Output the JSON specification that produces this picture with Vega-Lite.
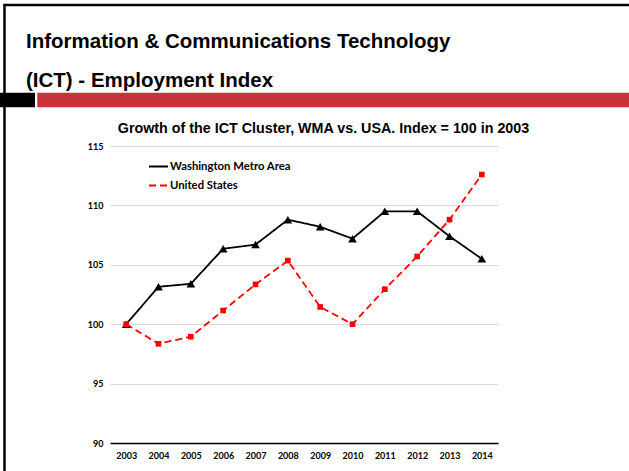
{
  "$schema": "https://vega.github.io/schema/vega-lite/v6.json",
  "autosize": {"type": "none"},
  "width": 388,
  "height": 297,
  "padding": {"left": 110, "top": 146, "right": 131, "bottom": 28},
  "background": "white",
  "title": {
    "text": ["Information & Communications Technology", " (ICT) - Employment Index"],
    "anchor": "start",
    "frame": "group",
    "dx": -84,
    "dy": 109,
    "baseline": "alphabetic",
    "font": "Liberation Sans",
    "fontSize": 20.5,
    "fontWeight": "bold",
    "lineHeight": 39,
    "color": "#000000"
  },
  "config": {
    "view": {"stroke": null},
    "font": "Lato",
    "axisY": {
      "title": null, "ticks": false, "domain": false,
      "grid": true, "gridColor": "#d9d9d9", "gridWidth": 1,
      "labelFont": "Lato", "labelFontSize": 9, "labelFontWeight": "bold", "labelColor": "#000000",
      "labelPadding": 7
    }
  },
  "data": {
    "values": [
      {"year": "2003", "series": "Washington Metro Area", "value": 100.0},
      {"year": "2004", "series": "Washington Metro Area", "value": 103.15},
      {"year": "2005", "series": "Washington Metro Area", "value": 103.4},
      {"year": "2006", "series": "Washington Metro Area", "value": 106.35},
      {"year": "2007", "series": "Washington Metro Area", "value": 106.7},
      {"year": "2008", "series": "Washington Metro Area", "value": 108.8},
      {"year": "2009", "series": "Washington Metro Area", "value": 108.2},
      {"year": "2010", "series": "Washington Metro Area", "value": 107.2},
      {"year": "2011", "series": "Washington Metro Area", "value": 109.5},
      {"year": "2012", "series": "Washington Metro Area", "value": 109.5},
      {"year": "2013", "series": "Washington Metro Area", "value": 107.4},
      {"year": "2014", "series": "Washington Metro Area", "value": 105.5},
      {"year": "2003", "series": "United States", "value": 100.0},
      {"year": "2004", "series": "United States", "value": 98.35},
      {"year": "2005", "series": "United States", "value": 98.95},
      {"year": "2006", "series": "United States", "value": 101.15},
      {"year": "2007", "series": "United States", "value": 103.35},
      {"year": "2008", "series": "United States", "value": 105.35},
      {"year": "2009", "series": "United States", "value": 101.45},
      {"year": "2010", "series": "United States", "value": 100.0},
      {"year": "2011", "series": "United States", "value": 102.95},
      {"year": "2012", "series": "United States", "value": 105.7},
      {"year": "2013", "series": "United States", "value": 108.8},
      {"year": "2014", "series": "United States", "value": 112.6}
    ]
  },
  "layer": [
    {
      "data": {"values": [{}]},
      "mark": {"type": "rect", "color": "#000000"},
      "encoding": {"x": {"value": -115}, "x2": {"value": -75}, "y": {"value": -53.3}, "y2": {"value": -38.7}}
    },
    {
      "data": {"values": [{}]},
      "mark": {"type": "rect", "color": "#c8323b"},
      "encoding": {"x": {"value": -72.7}, "x2": {"value": 525}, "y": {"value": -53.3}, "y2": {"value": -38.7}}
    },
    {
      "data": {"values": [{}]},
      "mark": {"type": "rule", "color": "#000000", "strokeWidth": 2.5},
      "encoding": {"x": {"value": -105.5}, "y": {"value": -142}, "y2": {"value": 330}}
    },
    {
      "data": {"values": [{}]},
      "mark": {"type": "rule", "color": "#000000", "strokeWidth": 2.5},
      "encoding": {"x": {"value": -106.5}, "x2": {"value": 525}, "y": {"value": -141}}
    },
    {
      "mark": {"type": "line", "strokeWidth": 1.8},
      "encoding": {
        "x": {
          "field": "year", "type": "ordinal",
          "scale": {"type": "point", "padding": 0.5},
          "axis": {
            "orient": "top", "labels": false, "ticks": false, "domain": false, "grid": false,
            "title": "Growth of the ICT Cluster, WMA vs. USA. Index = 100 in 2003",
            "titleFont": "Liberation Sans", "titleFontSize": 14.3, "titleFontWeight": "bold",
            "titleColor": "#000000", "titleX": 213, "titleY": -14, "titleAlign": "center",
            "titleBaseline": "alphabetic"
          }
        },
        "y": {
          "field": "value", "type": "quantitative",
          "scale": {"domain": [90, 115], "nice": false, "zero": false},
          "axis": {"values": [90, 95, 100, 105, 110, 115]}
        },
        "color": {
          "field": "series", "type": "nominal",
          "scale": {"domain": ["Washington Metro Area", "United States"], "range": ["#000000", "#ff0000"]},
          "legend": {"title": null, "orient": "none", "legendX": 38, "legendY": 10, "symbolType": "stroke", "symbolSize": 361, "symbolStrokeWidth": 1.8, "labelFont": "Lato", "labelFontSize": 11.3, "labelFontWeight": "bold", "labelColor": "#000000", "labelOffset": 1, "rowPadding": 3}
        },
        "strokeDash": {
          "field": "series", "type": "nominal",
          "scale": {"domain": ["Washington Metro Area", "United States"], "range": [[1, 0], [7, 4]]},
          "legend": {"title": null, "orient": "none", "legendX": 38, "legendY": 10, "symbolType": "stroke", "symbolSize": 361, "symbolStrokeWidth": 1.8, "labelFont": "Lato", "labelFontSize": 11.3, "labelFontWeight": "bold", "labelColor": "#000000", "labelOffset": 1, "rowPadding": 3}
        }
      }
    },
    {
      "transform": [{"filter": "datum.series === 'Washington Metro Area'"}],
      "mark": {"type": "point", "shape": "triangle-up", "filled": true, "size": 75, "color": "#000000", "opacity": 1},
      "encoding": {
        "x": {
          "field": "year", "type": "ordinal",
          "axis": {
            "orient": "bottom", "title": null, "ticks": false, "grid": false,
            "domainColor": "#000000", "domainWidth": 1.3,
            "labelFont": "Lato", "labelFontSize": 9, "labelFontWeight": "bold", "labelColor": "#000000",
            "labelPadding": 8, "labelAngle": 0
          }
        },
        "y": {"field": "value", "type": "quantitative", "axis": {"values": [90, 95, 100, 105, 110, 115]}}
      }
    },
    {
      "transform": [{"filter": "datum.series === 'United States'"}],
      "mark": {"type": "point", "shape": "square", "filled": true, "size": 32, "color": "#ff0000", "opacity": 1},
      "encoding": {
        "x": {"field": "year", "type": "ordinal", "axis": null},
        "y": {"field": "value", "type": "quantitative", "axis": {"values": [90, 95, 100, 105, 110, 115]}}
      }
    }
  ],
  "resolve": {"axis": {"x": "independent"}}
}
